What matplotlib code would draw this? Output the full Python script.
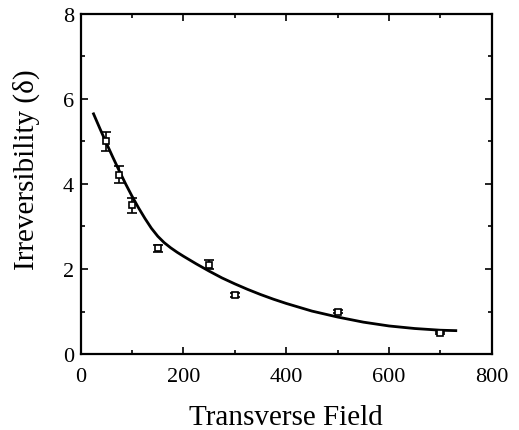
import matplotlib
matplotlib.use("Agg")
from matplotlib import pyplot
from matplotlib.ticker import MultipleLocator

# measured points
field = [50, 75, 100, 150, 250, 300, 500, 700]
delta = [5.0, 4.22, 3.5, 2.49, 2.1, 1.38, 1.0, 0.49]
delta_err = [0.23, 0.2, 0.18, 0.08, 0.1, 0.05, 0.04, 0.03]

# fitted curve
fit_field = [25, 37.5, 50, 62.5, 75, 87.5, 100, 112.5, 125, 137.5, 150,
             162.5, 175, 187.5, 200, 225, 250, 275, 300, 325, 350, 375,
             400, 450, 500, 550, 600, 650, 700, 730]
fit_delta = [5.65, 5.30, 4.96, 4.63, 4.31, 4.00, 3.71, 3.44, 3.19, 2.96, 2.77,
             2.62, 2.50, 2.395, 2.30, 2.12, 1.95, 1.79, 1.65, 1.52, 1.40, 1.29,
             1.19, 1.01, 0.87, 0.75, 0.66, 0.60, 0.56, 0.55]

pyplot.rcParams['font.family'] = ['Liberation Serif', 'DejaVu Serif']

fig = pyplot.figure(figsize=(5.19, 4.31), dpi=100)
ax = fig.add_axes([0.1555, 0.1763, 0.792, 0.789])

ax.plot(fit_field, fit_delta, color='black', lw=2.0)
ax.errorbar(field, delta, yerr=delta_err, fmt='s', ms=4.5,
            mfc='white', mec='black', mew=1.2, ecolor='black',
            elinewidth=1.2, capsize=3.5, capthick=1.2)

ax.set_xlim(0, 800)
ax.set_ylim(0, 8)
ax.xaxis.set_major_locator(MultipleLocator(200))
ax.xaxis.set_minor_locator(MultipleLocator(100))
ax.yaxis.set_major_locator(MultipleLocator(2))
ax.yaxis.set_minor_locator(MultipleLocator(1))

ax.tick_params(which='both', direction='in', top=True, right=True,
               width=1.2, labelsize=16)
ax.tick_params(which='major', length=5)
ax.tick_params(which='minor', length=3)
ax.tick_params(axis='x', pad=9)
ax.tick_params(axis='y', pad=5)
for s in ax.spines.values():
    s.set_linewidth(1.6)

ax.set_xlabel("Transverse Field", fontsize=21, labelpad=13)
ax.set_ylabel("Irreversibility (\u03b4)", fontsize=21)
ax.yaxis.set_label_coords(-0.10, 0.544)

fig.savefig("out.png", dpi=100)
